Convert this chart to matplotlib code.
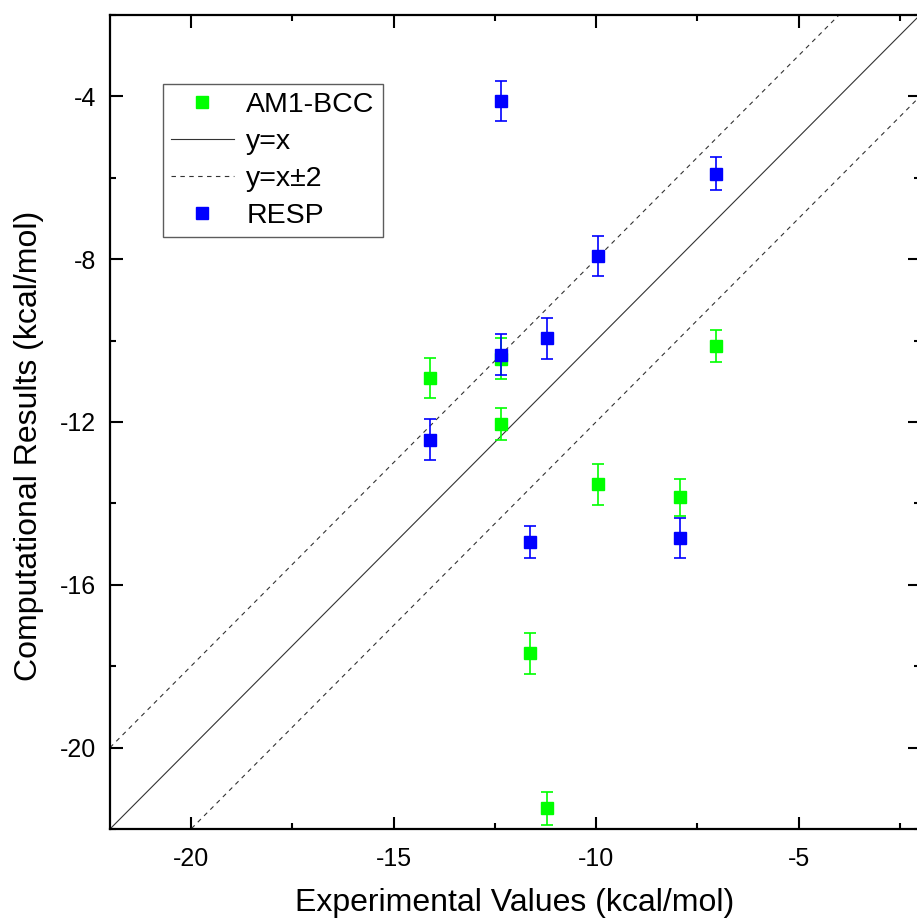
import matplotlib
matplotlib.use("Agg")
import matplotlib.pyplot as plt
from matplotlib.ticker import MultipleLocator
import matplotlib.lines as mlines
import numpy as np

plt.rcParams['font.family'] = ['Liberation Sans', 'DejaVu Sans']
plt.rcParams['axes.unicode_minus'] = False

# AM1-BCC data
am1_x = [-14.10, -12.35, -12.35, -11.63, -11.22, -9.95, -7.93, -7.04]
am1_y = [-10.92, -10.44, -12.05, -17.68, -21.49, -13.53, -13.85, -10.13]
am1_err = [0.5, 0.5, 0.4, 0.5, 0.4, 0.5, 0.45, 0.4]

# RESP data
resp_x = [-14.10, -12.35, -12.35, -11.63, -11.22, -9.95, -7.93, -7.04]
resp_y = [-12.43, -10.35, -4.11, -14.95, -9.94, -7.92, -14.85, -5.90]
resp_err = [0.5, 0.5, 0.5, 0.4, 0.5, 0.5, 0.5, 0.4]

# reference lines
line_x = [-22, -2]
offset = 2

W, H = 917, 923
fig = plt.figure(figsize=(W / 100, H / 100), dpi=100)
ax = fig.add_axes([110 / W, 1 - 829 / H, 810 / W, 814 / H])

green = '#00ff00'
blue = '#0000ff'
ax.errorbar(am1_x, am1_y, yerr=am1_err, fmt='s', color=green, ms=9.3,
            elinewidth=1.2, capsize=4.5, capthick=1.2, zorder=3)
lx = np.array(line_x, dtype=float)
ax.plot(lx, lx, '-', color='#333333', lw=0.8, zorder=2)
ax.plot(lx, lx + offset, color='#333333', lw=0.8, linestyle=(0, (4, 4)), zorder=2)
ax.plot(lx, lx - offset, color='#333333', lw=0.8, linestyle=(0, (4, 4)), zorder=2)
ax.errorbar(resp_x, resp_y, yerr=resp_err, fmt='s', color=blue, ms=9.3,
            elinewidth=1.2, capsize=4.5, capthick=1.2, zorder=4)

ax.set_xlim(-22, -2)
ax.set_ylim(-22, -2)
ax.xaxis.set_major_locator(MultipleLocator(5))
ax.xaxis.set_minor_locator(MultipleLocator(2.5))
ax.yaxis.set_major_locator(MultipleLocator(4))
ax.yaxis.set_minor_locator(MultipleLocator(2))
ax.tick_params(which='both', direction='in', top=True, right=True, width=1.5,
               labelsize=18)
ax.tick_params(which='major', length=9, pad=10)
ax.tick_params(axis='x', which='major', pad=13)
ax.tick_params(which='minor', length=4.5)
for s in ax.spines.values():
    s.set_linewidth(1.6)

ax.set_xlabel('Experimental Values (kcal/mol)', fontsize=23)
ax.xaxis.set_label_coords(0.5, -0.072)
fig.text(29 / W, 1 - 446 / H, 'Computational Results (kcal/mol)', fontsize=23,
         rotation=90, ha='center', va='center')

handles = [
    mlines.Line2D([], [], ls='none', marker='s', color=green, ms=9.3),
    mlines.Line2D([], [], ls='-', color='#333333', lw=0.8),
    mlines.Line2D([], [], color='#333333', lw=0.8, linestyle=(0, (4, 4))),
    mlines.Line2D([], [], ls='none', marker='s', color=blue, ms=9.3),
]
labels = ['AM1-BCC', 'y=x', 'y=x\u00b12', 'RESP']
leg = ax.legend(handles, labels, loc='upper left', bbox_to_anchor=(0.0654, 0.915),
                borderaxespad=0, fontsize=20.5, frameon=True, fancybox=False,
                handlelength=2.2, handletextpad=0.45, labelspacing=0.38,
                borderpad=0.28)
leg.get_frame().set_edgecolor('#333333')
leg.get_frame().set_linewidth(1.0)

fig.savefig('out.png', dpi=100)
